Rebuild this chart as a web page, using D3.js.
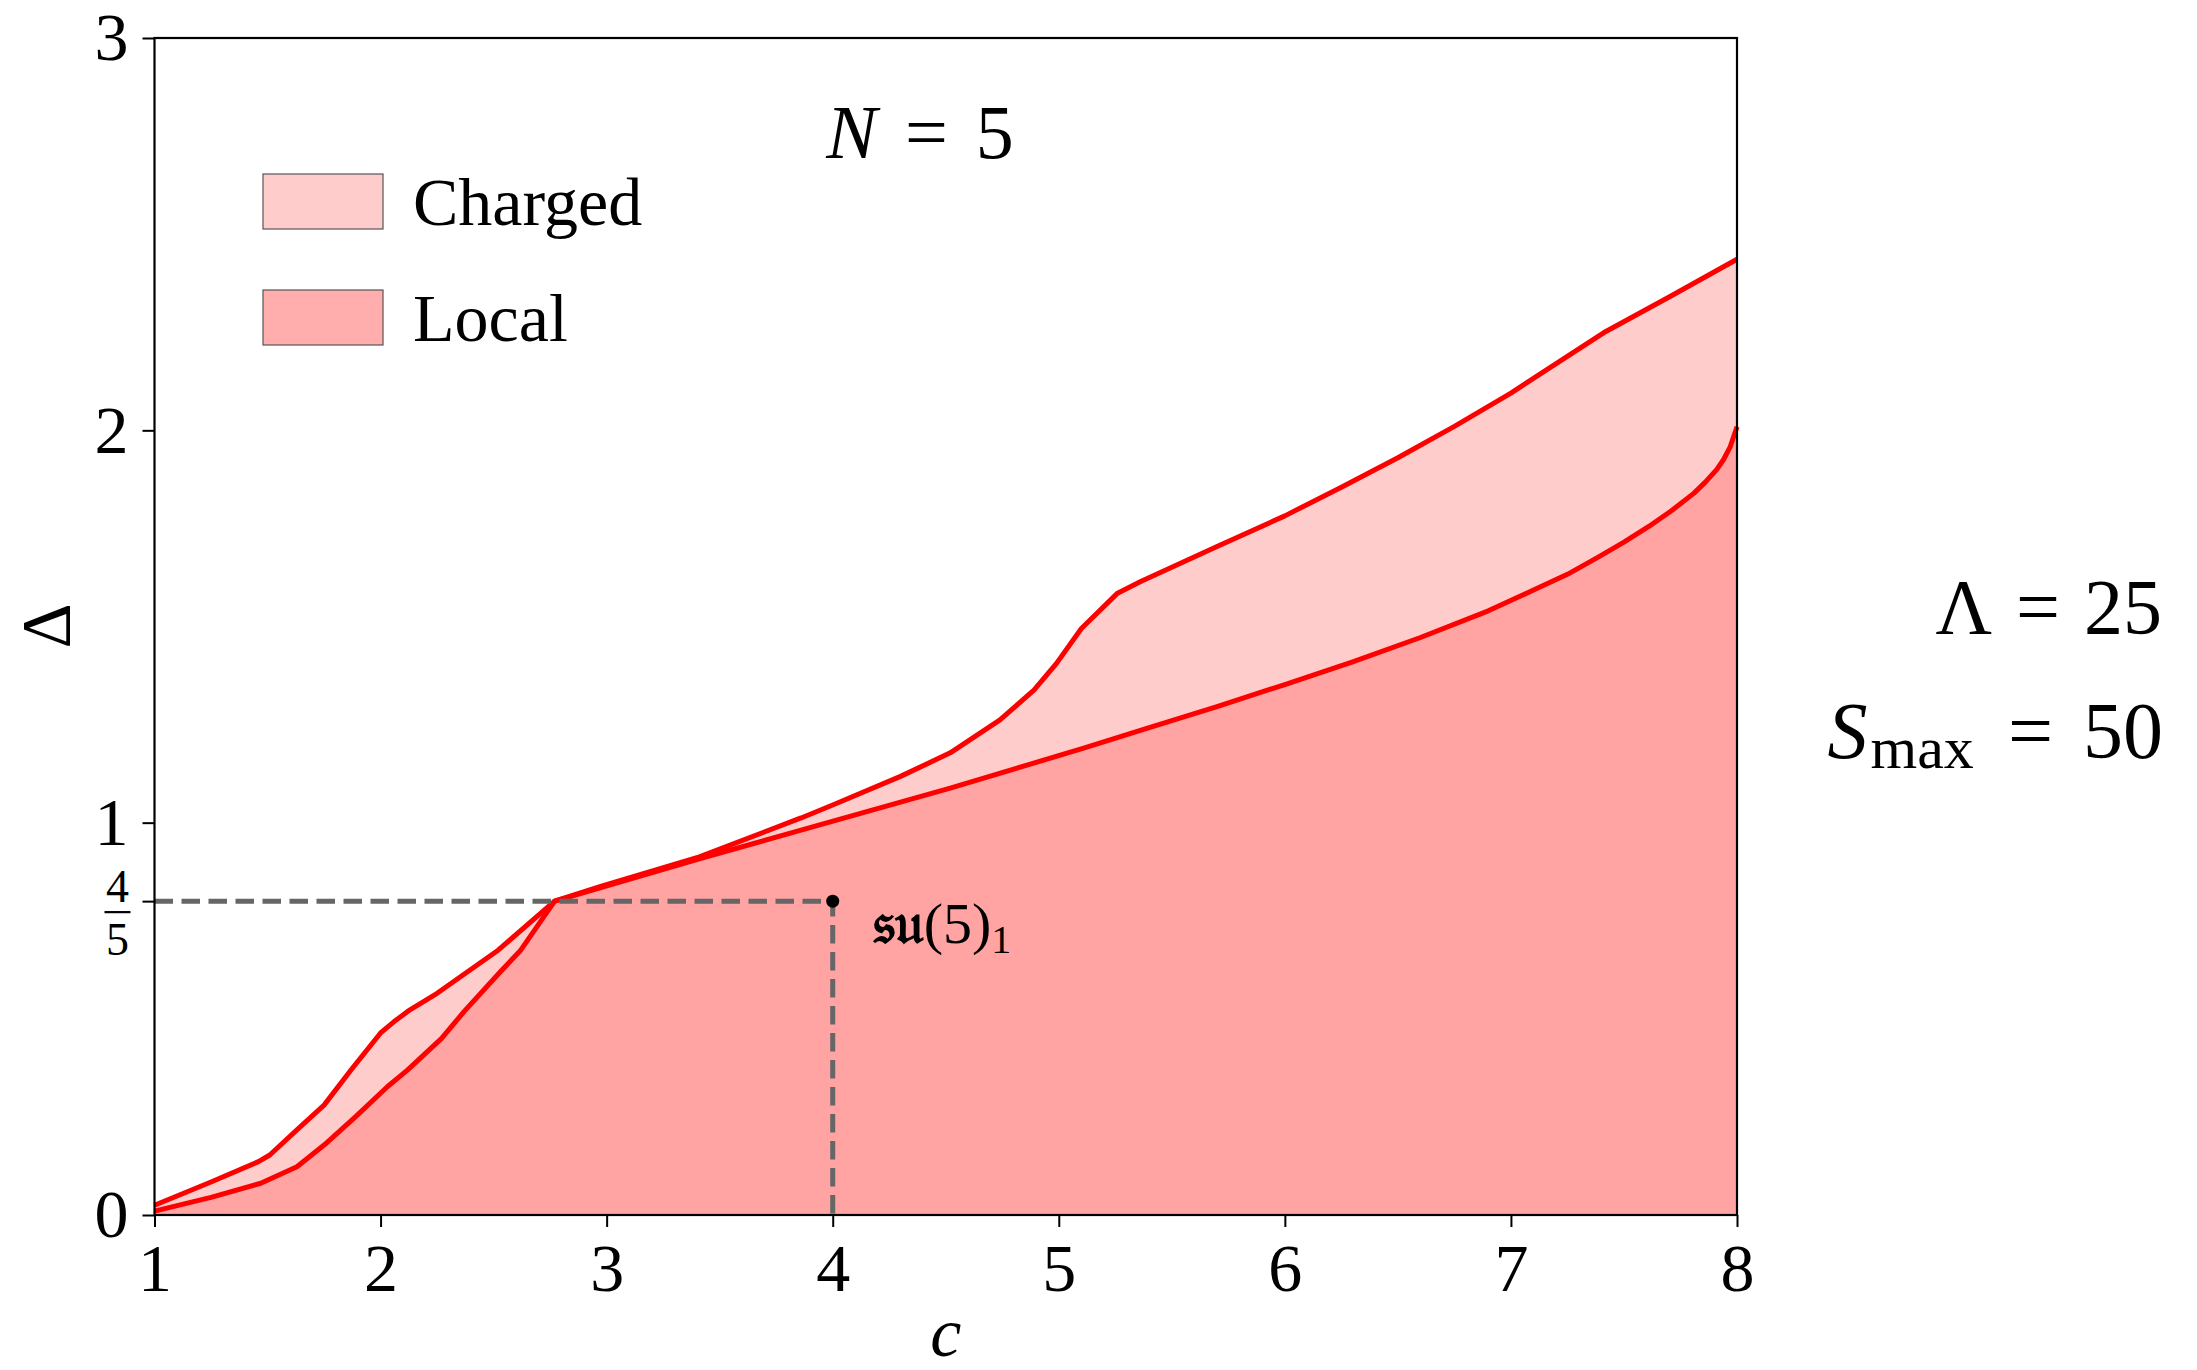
<!DOCTYPE html>
<html>
<head>
<meta charset="utf-8">
<script src="https://cdn.jsdelivr.net/npm/d3@7"></script>
<style>
  body { margin: 0; background: #fff; }
  text { font-family: "Liberation Serif", "DejaVu Serif", serif; fill: #000; }
</style>
</head>
<body>
<svg id="chart" width="2197" height="1370"></svg>
<script>
// central charge c vs gap Delta
const cCharged = [1.0, 1.25, 1.46, 1.51, 1.63, 1.75, 1.87, 2.0, 2.06, 2.13, 2.25, 2.52, 2.77, 2.97, 3.41, 3.86, 4.0, 4.3, 4.52, 4.74, 4.89, 4.99, 5.1, 5.26, 5.36, 5.7, 6.0, 6.25, 6.5, 6.75, 7.0, 7.2, 7.42, 7.7, 8.0];
const dCharged = [0.025, 0.084, 0.136, 0.153, 0.217, 0.28, 0.37, 0.464, 0.493, 0.523, 0.565, 0.675, 0.8, 0.837, 0.913, 1.012, 1.045, 1.118, 1.178, 1.262, 1.338, 1.406, 1.495, 1.585, 1.614, 1.704, 1.782, 1.855, 1.93, 2.01, 2.095, 2.17, 2.252, 2.34, 2.436];

const cLocal = [1.0, 1.25, 1.47, 1.63, 1.76, 1.89, 2.03, 2.12, 2.27, 2.37, 2.53, 2.62, 2.77, 3.41, 3.86, 4.52, 5.11, 5.4, 5.7, 6.0, 6.3, 6.6, 6.9, 7.1, 7.25, 7.39, 7.5, 7.61, 7.71, 7.81, 7.86, 7.91, 7.94, 7.97, 8.0];
const dLocal = [0.01, 0.045, 0.081, 0.123, 0.183, 0.251, 0.327, 0.37, 0.45, 0.519, 0.62, 0.675, 0.8, 0.908, 0.981, 1.088, 1.19, 1.242, 1.296, 1.352, 1.41, 1.472, 1.54, 1.593, 1.633, 1.678, 1.715, 1.755, 1.795, 1.84, 1.868, 1.9, 1.925, 1.958, 2.009];

const xTicks = [1, 2, 3, 4, 5, 6, 7, 8];
const yTicks = [0, 0.8, 1, 2, 3];
const su5 = { c: 4, delta: 0.8 };

const legendLabels = ["Charged", "Local"];

const svg = d3.select("#chart");
const margin = { left: 154.5, right: 460, top: 38, bottom: 155 };
const W = 2197, H = 1370;

const x = d3.scaleLinear().domain([1, 8]).range([margin.left, W - margin.right]);
const y = d3.scaleLinear().domain([0, 3]).range([H - margin.bottom, margin.top]);

const charged = cCharged.map((c, i) => ({ c, d: dCharged[i] }));
const local = cLocal.map((c, i) => ({ c, d: dLocal[i] }));

const area = d3.area().x(p => x(p.c)).y0(y(0)).y1(p => y(p.d));
const line = d3.line().x(p => x(p.c)).y(p => y(p.d));

const plot = svg.append("g");

// two translucent red fills, overlapping under the local bound
[charged, local].forEach(data => {
  plot.append("path").datum(data).attr("d", area)
    .attr("fill", "#ff0000").attr("fill-opacity", 0.2);
});
[charged, local].forEach(data => {
  plot.append("path").datum(data).attr("d", line)
    .attr("fill", "none").attr("stroke", "#ff0000").attr("stroke-width", 5)
    .attr("stroke-linejoin", "round");
});

// dashed guides to su(5)_1
plot.append("path")
  .attr("d", `M${x(1)},${y(su5.delta)}H${x(su5.c)}V${y(0)}`)
  .attr("fill", "none").attr("stroke", "#666").attr("stroke-width", 5)
  .attr("stroke-dasharray", "18.5 8.5");
plot.append("circle").attr("cx", x(su5.c)).attr("cy", y(su5.delta)).attr("r", 6.5).attr("fill", "#000");

const lab = plot.append("text").attr("x", x(su5.c) + 40).attr("y", y(su5.delta) + 42)
  .style("font-size", "58px");
lab.append("tspan").text("\u{1D530}\u{1D532}").style("font-weight", "bold");
lab.append("tspan").text("(5)");
lab.append("tspan").text("1").style("font-size", "40px").attr("dy", 10);

// axes
const xAxis = d3.axisBottom(x).tickValues(xTicks).tickSize(12).tickPadding(16).tickFormat(d3.format("d"));
const yAxis = d3.axisLeft(y).tickValues(yTicks).tickSize(12).tickPadding(14)
  .tickFormat(d => d === 0.8 ? "" : d3.format("d")(d));

const gx = svg.append("g").attr("transform", `translate(0,${y(0)})`).call(xAxis);
const gy = svg.append("g").attr("transform", `translate(${x(1)},0)`).call(yAxis);
[gx, gy].forEach(g => {
  g.select(".domain").remove();
  g.selectAll(".tick line").attr("stroke", "#000").attr("stroke-width", 2);
  g.selectAll(".tick text").style("font-size", "68px").style("font-family", "Liberation Serif");
});

// 4/5 fraction label
const fx = x(1) - 37, fy = y(0.8);
svg.append("text").attr("x", fx).attr("y", fy + 1).attr("text-anchor", "middle")
  .style("font-size", "46px").text("4");
svg.append("line").attr("x1", fx - 13).attr("x2", fx + 13).attr("y1", fy + 11).attr("y2", fy + 11)
  .attr("stroke", "#000").attr("stroke-width", 2.2);
svg.append("text").attr("x", fx).attr("y", fy + 54).attr("text-anchor", "middle")
  .style("font-size", "46px").text("5");

// frame
svg.append("rect").attr("x", x(1)).attr("y", y(3))
  .attr("width", x(8) - x(1)).attr("height", y(0) - y(3))
  .attr("fill", "none").attr("stroke", "#000").attr("stroke-width", 2.2);

// axis labels
svg.append("text").attr("transform", "translate(70,626) rotate(-90)")
  .attr("text-anchor", "middle").style("font-size", "70px").text("\u0394");
svg.append("text").attr("x", (x(1) + x(8)) / 2).attr("y", 1356)
  .attr("text-anchor", "middle").style("font-size", "70px").style("font-style", "italic").text("c");

// N = 5
const t1 = svg.append("text").attr("x", 920).attr("y", 158).attr("text-anchor", "middle").style("font-size", "76px");
t1.append("tspan").text("N").style("font-style", "italic");
t1.append("tspan").text("=").attr("dx", 28);
t1.append("tspan").text("5").attr("dx", 28);

// parameters at the right
const t2 = svg.append("text").attr("x", 2162).attr("y", 633).attr("text-anchor", "end").style("font-size", "78px");
t2.append("tspan").text("\u039B");
t2.append("tspan").text("=").attr("dx", 24);
t2.append("tspan").text("25").attr("dx", 24);
const t3 = svg.append("text").attr("x", 2163).attr("y", 758).attr("text-anchor", "end").style("font-size", "80px");
t3.append("tspan").text("S").style("font-style", "italic");
t3.append("tspan").text("max").style("font-size", "60px").attr("dy", 10).attr("dx", 3);
t3.append("tspan").text("=").attr("dy", -10).attr("dx", 34);
t3.append("tspan").text("50").attr("dx", 30);

// legend
const swatch = ["rgba(255,0,0,0.2)", "rgba(255,0,0,0.32)"];
const lg = svg.append("g");
legendLabels.forEach((name, i) => {
  const top = 174 + i * 116;
  lg.append("rect").attr("x", 263).attr("y", top).attr("width", 120).attr("height", 55)
    .attr("fill", swatch[i]).attr("stroke", "#555").attr("stroke-width", 1.2);
  lg.append("text").attr("x", 413).attr("y", top + 51).style("font-size", "68px").text(name);
});
</script>
</body>
</html>
